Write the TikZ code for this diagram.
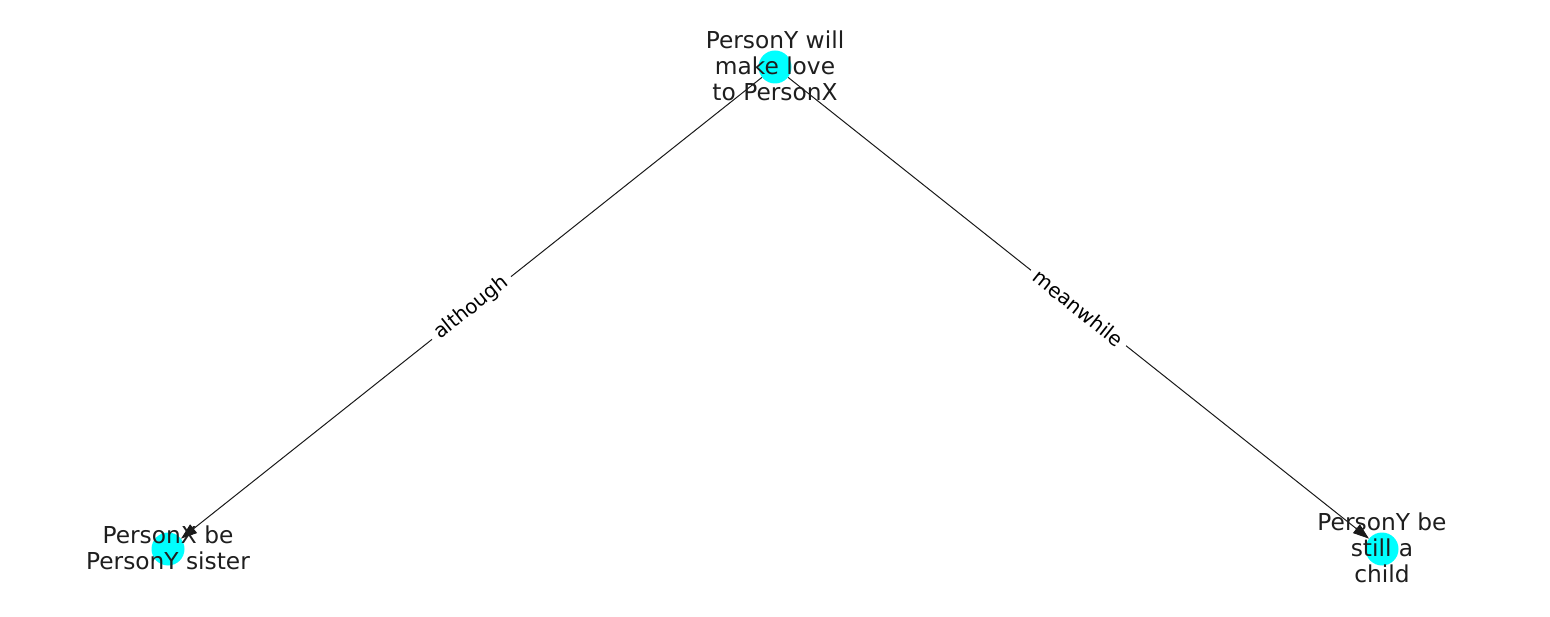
\documentclass[tikz,border=0pt]{standalone}
\usepackage{fontspec}
\setmainfont{DejaVu Sans}
\usetikzlibrary{arrows.meta}
\definecolor{nodecyan}{RGB}{0,255,255}
\definecolor{txt}{RGB}{30,30,30}
\begin{document}
\begin{tikzpicture}[x=1pt,y=1pt,
  dot/.style={circle,fill=nodecyan,draw=none,minimum size=33pt,inner sep=0pt},
  lbl/.style={align=center,text=txt,font=\fontsize{23.3}{26}\selectfont,inner sep=0pt},
  edge/.style={draw=black!90,line width=1pt,-{Triangle[length=16pt,width=11pt]}},
  elbl/.style={midway,sloped,fill=white,text=black,font=\fontsize{20}{23}\selectfont,inner xsep=6pt,inner ysep=2pt}]
\useasboundingbox (0,0) rectangle (1550,616);
\node[dot] (t) at (775,549) {};
\node[dot] (l) at (168,67) {};
\node[dot] (r) at (1382,67) {};
\draw[edge] (t) -- node[elbl] {although} (l);
\draw[edge] (t) -- node[elbl] {meanwhile} (r);
\node[lbl] (tt) at (775,550) {PersonY will\\make love\\to PersonX};
\node[lbl] (lt) at (168,68) {PersonX be\\PersonY sister};
\node[lbl] (rt) at (1382,68) {PersonY be\\still a\\child};
\end{tikzpicture}
\end{document}
